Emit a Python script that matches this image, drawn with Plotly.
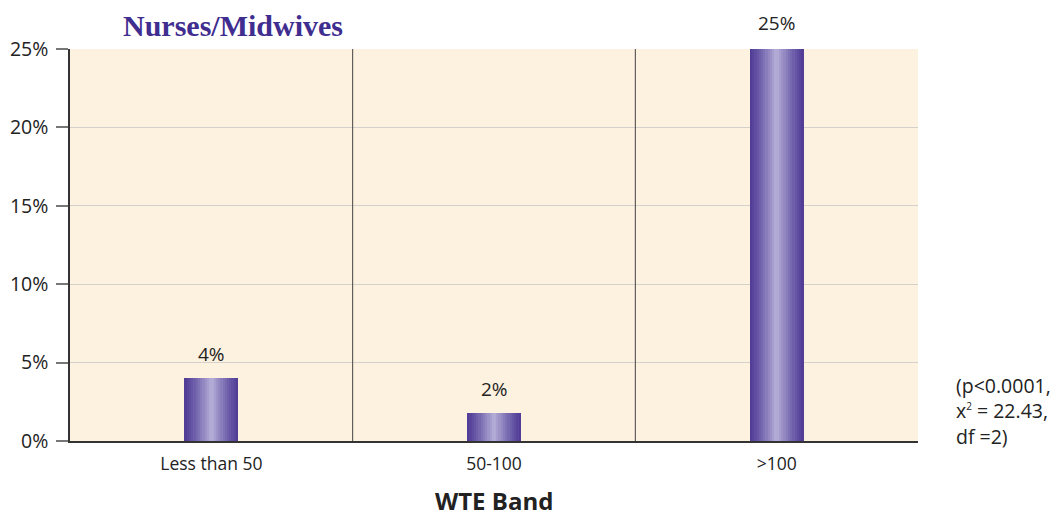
import plotly.graph_objects as go

categories = ["Less than 50", "50-100", ">100"]
values = [4.0, 1.8, 25.15]
value_labels = ["4%", "2%", "25%"]
y_ticks = [0, 5, 10, 15, 20, 25]
y_tick_labels = ["0%", "5%", "10%", "15%", "20%", "25%"]
y_max = 25

x_pos = list(range(len(categories)))

fig = go.Figure()

# gradient bars built from vertical slices
n = 24
bar_w = 0.19
dark = (80, 60, 150)
light = (182, 176, 216)
for i in range(n):
    t = (i + 0.5) / n
    f = 1 - abs(t - 0.5) * 2  # 0 at edges, 1 at centre
    f = f ** 1.2
    c = tuple(int(dark[k] + (light[k] - dark[k]) * f) for k in range(3))
    fig.add_trace(go.Bar(
        x=x_pos, y=values,
        width=bar_w / n + 0.001,
        offset=-bar_w / 2 + i * bar_w / n,
        marker=dict(color="rgb(%d,%d,%d)" % c, line=dict(width=0)),
        showlegend=False, hoverinfo="skip", cliponaxis=False,
    ))

for xp, v, lab in zip(x_pos, values, value_labels):
    fig.add_annotation(x=xp, xref="x", yref="paper", y=v / y_max, text=lab, showarrow=False,
                       yanchor="bottom", yshift=9, font=dict(size=19, color="#222"))

for b in [0.5, 1.5]:
    fig.add_shape(type="line", xref="x", yref="paper", x0=b, x1=b, y0=0, y1=1,
                  line=dict(color="#444", width=1))

fig.add_annotation(xref="paper", yref="paper", x=0.06, y=1 + 41 / 392, yshift=1,
                   text="<b>Nurses/Midwives</b>", showarrow=False, xanchor="left", yanchor="top",
                   font=dict(family="Liberation Serif", size=30, color="#3f2d8f"))

fig.add_annotation(xref="paper", yref="paper", x=0.5, y=-0.153,
                   text="<b>WTE Band</b>", showarrow=False, xanchor="center", yanchor="middle",
                   font=dict(size=24, color="#222"))

fig.add_annotation(xref="paper", yref="paper", x=1.043, y=0.0, yshift=-11,
                   text="(p<0.0001,<br>x<sup><span style='font-size:10px'>2</span></sup> = 22.43,<br>df =2)",
                   showarrow=False, xanchor="left", yanchor="bottom", align="left",
                   font=dict(size=19.5, color="#222"))

fig.update_layout(
    width=1045, height=508,
    margin=dict(l=62, r=135, t=41, b=75, autoexpand=False),
    paper_bgcolor="white", plot_bgcolor="#fdf1df",
    barmode="overlay", bargap=0,
    font=dict(family="Open Sans, DejaVu Sans, sans-serif", color="#222"),
    xaxis=dict(tickvals=x_pos, ticktext=categories, range=[-0.5, 2.5], automargin=False,
               showgrid=False, zeroline=False, showline=True, linecolor="#333", linewidth=1.5,
               ticks="", ticklabelstandoff=6, tickfont=dict(size=17.5, color="#222")),
    yaxis=dict(range=[0, y_max], tickvals=y_ticks, ticktext=y_tick_labels, automargin=False,
               showgrid=True, gridcolor="#d4d0cc", gridwidth=1, zeroline=False,
               showline=True, linecolor="#333", linewidth=1.5,
               ticks="outside", ticklen=12, tickcolor="#777", tickwidth=1.5,
               ticklabelstandoff=4, tickfont=dict(size=19.5, color="#222")),
)

fig.write_html("out.html")
